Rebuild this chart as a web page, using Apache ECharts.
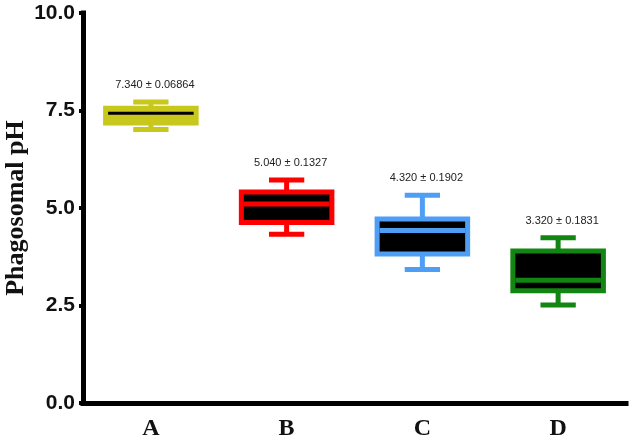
<!DOCTYPE html>
<html>
<head>
<meta charset="utf-8">
<script src="https://cdn.jsdelivr.net/npm/echarts@6/dist/echarts.min.js"></script>
<style>
	html, body { margin: 0; padding: 0; background: #fff; }
	#chart { width: 630px; height: 439px; }
</style>
</head>
<body>
<div id="chart"></div>
<script>
	// 分组
	var groups = ['A', 'B', 'C', 'D'];
	// 箱线图数据: 最小值, Q1, 中位数, Q3, 最大值
	var mins = [7.01, 4.33, 3.42, 2.51];
	var q1s = [7.18, 4.63, 3.82, 2.88];
	var medians = [7.43, 5.10, 4.42, 3.15];
	var q3s = [7.56, 5.41, 4.72, 3.90];
	var maxs = [7.72, 5.72, 5.33, 4.24];
	// 均值 ± SEM 标注
	var means = [7.34, 5.04, 4.32, 3.32];
	var sems = [0.06864, 0.1327, 0.1902, 0.1831];
	// y 轴刻度
	var yTicks = [0, 2.5, 5, 7.5, 10];

	// 样式
	var boxColors = ['#c8c81c', '#ff0000', '#4f9ef5', '#128512'];
	var fillColors = ['#c8c81c', '#000000', '#000000', '#000000'];
	var medianColors = ['#000000', '#ff0000', '#4f9ef5', '#128512'];
	var medianWidths = [3, 5, 5, 5];

	var chart = echarts.init(document.getElementById('chart'));

	var boxData = [];
	for (var i = 0; i < groups.length; i++) {
		boxData.push([i, mins[i], q1s[i], medians[i], q3s[i], maxs[i]]);
	}

	function renderBox(params, api) {
		var i = params.dataIndex;
		var idx = api.value(0);
		var cx = api.coord([idx, 0])[0];
		var band = api.size([1, 0])[0];
		var boxW = band * 0.667;
		var capW = band * 0.26;
		var yMin = api.coord([idx, api.value(1)])[1];
		var yQ1 = api.coord([idx, api.value(2)])[1];
		var yMed = api.coord([idx, api.value(3)])[1];
		var yQ3 = api.coord([idx, api.value(4)])[1];
		var yMax = api.coord([idx, api.value(5)])[1];
		var c = boxColors[i];
		var lineStyle = { stroke: c, lineWidth: 5, lineCap: 'butt' };
		return {
			type: 'group',
			children: [
				{ type: 'line', shape: { x1: cx, y1: yMax, x2: cx, y2: yQ3 }, style: lineStyle },
				{ type: 'line', shape: { x1: cx, y1: yQ1, x2: cx, y2: yMin }, style: lineStyle },
				{ type: 'line', shape: { x1: cx - capW / 2, y1: yMax, x2: cx + capW / 2, y2: yMax }, style: lineStyle },
				{ type: 'line', shape: { x1: cx - capW / 2, y1: yMin, x2: cx + capW / 2, y2: yMin }, style: lineStyle },
				{
					type: 'rect',
					shape: { x: cx - boxW / 2, y: yQ3, width: boxW, height: yQ1 - yQ3 },
					style: { fill: fillColors[i], stroke: c, lineWidth: 5 }
				},
				{
					type: 'line',
					shape: { x1: cx - boxW / 2 + 2.5, y1: yMed, x2: cx + boxW / 2 - 2.5, y2: yMed },
					style: { stroke: medianColors[i], lineWidth: medianWidths[i] }
				},
				{
					type: 'text',
					x: cx + 4,
					y: yMax - 17,
					style: {
						text: means[i].toFixed(3) + ' ± ' + sems[i],
						fill: '#222',
						font: '11px "Liberation Sans", Arial, sans-serif',
						align: 'center',
						verticalAlign: 'middle'
					}
				}
			]
		};
	}

	var option = {
		animation: false,
		backgroundColor: '#fff',
		grid: {
			left: 83,
			right: 4,
			top: 13,
			bottom: 36,
			containLabel: false,
			outerBoundsMode: 'none',
		},
		xAxis: {
			type: 'category',
			data: groups,
			boundaryGap: true,
			axisLine: {
				lineStyle: { color: '#000', width: 5, cap: 'square' },
			},
			axisTick: {
				alignWithLabel: true,
				length: 4,
				lineStyle: { color: '#000', width: 4 },
			},
			axisLabel: {
				margin: 14,
				color: '#111',
				fontFamily: '"Liberation Serif", "Times New Roman", serif',
				fontWeight: 'bold',
				fontSize: 24,
			},
			splitLine: { show: false },
		},
		yAxis: {
			type: 'value',
			min: yTicks[0],
			max: yTicks[yTicks.length - 1],
			interval: yTicks[1] - yTicks[0],
			name: 'Phagosomal pH',
			nameLocation: 'middle',
			nameRotate: 90,
			nameGap: 54,
			nameMoveOverlap: false,
			nameTextStyle: {
				color: '#111',
				fontFamily: '"Liberation Serif", "Times New Roman", serif',
				fontWeight: 'bold',
				fontSize: 26,
			},
			axisLine: {
				show: true,
				lineStyle: { color: '#000', width: 5, cap: 'square' },
			},
			axisTick: {
				show: true,
				length: 4,
				lineStyle: { color: '#000', width: 4 },
			},
			axisLabel: {
				margin: 8,
				color: '#111',
				fontFamily: '"Liberation Sans", Arial, sans-serif',
				fontWeight: 'bold',
				fontSize: 21,
				formatter: function(v) {
					return v.toFixed(1);
				},
			},
			splitLine: { show: false },
		},
		series: [{
			type: 'custom',
			renderItem: renderBox,
			encode: { x: 0, y: [1, 2, 3, 4, 5] },
			data: boxData,
			z: 3,
		}]
	};

	chart.setOption(option);
</script>
</body>
</html>
